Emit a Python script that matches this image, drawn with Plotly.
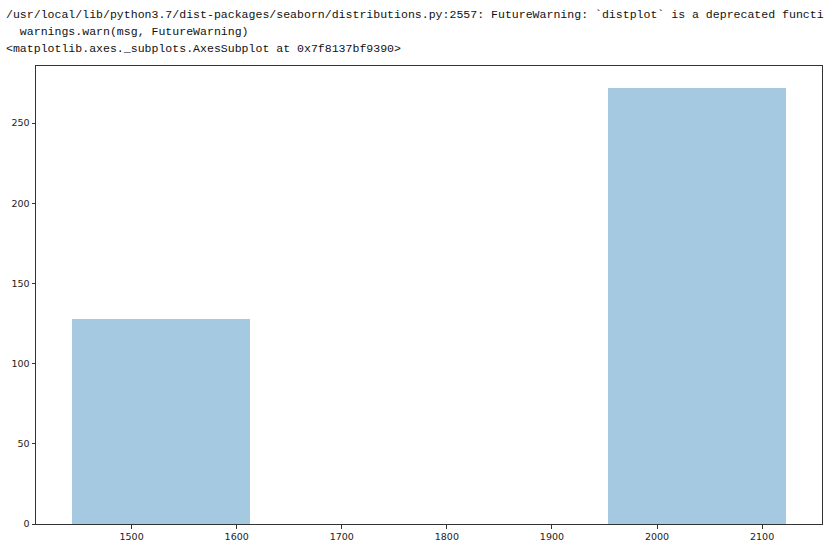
import plotly.graph_objects as go

# histogram (4 equal bins, middle two empty)
bin_edges = [1443, 1613, 1783, 1953, 2123]
counts = [128, 0, 0, 272]

x_ticks = [1500, 1600, 1700, 1800, 1900, 2000, 2100]
y_ticks = [0, 50, 100, 150, 200, 250]

# console output as far as it is visible in the cell
console_lines = [
    "/usr/local/lib/python3.7/dist-packages/seaborn/distributions.py:2557: FutureWarning: `distplot` is a deprecated functi",
    "  warnings.warn(msg, FutureWarning)",
    "<matplotlib.axes._subplots.AxesSubplot at 0x7f8137bf9390>",
]

centers = [(a + b) / 2 for a, b in zip(bin_edges[:-1], bin_edges[1:])]
widths = [b - a for a, b in zip(bin_edges[:-1], bin_edges[1:])]

# matplotlib-style 5% margins
span = bin_edges[-1] - bin_edges[0]
x_range = [bin_edges[0] - 0.05 * span, bin_edges[-1] + 0.05 * span]
y_range = [0, max(counts) * 1.05]

W, H = 830, 551
L, R, T, B = 36, 8, 66, 27
plot_w = W - L - R
plot_h = H - T - B

fig = go.Figure()
fig.add_trace(
    go.Bar(
        x=centers,
        y=counts,
        width=widths,
        marker=dict(color="rgba(31,119,180,0.4)", line=dict(width=0)),
        showlegend=False,
        hoverinfo="skip",
    )
)

# notebook console output above the axes
line_y = [15, 32, 48]
for line, yc in zip(console_lines, line_y):
    fig.add_annotation(
        text=line.replace(" ", "&nbsp;"),
        xref="paper", yref="paper",
        x=(4 - L) / plot_w, y=1.0 + (T - yc) / plot_h,
        xanchor="left", yanchor="middle",
        showarrow=False,
        font=dict(family="Liberation Mono", size=11.55, color="#111"),
    )

axis_style = dict(
    showgrid=False,
    zeroline=False,
    showline=True,
    linecolor="#333",
    linewidth=1,
    mirror=True,
    ticks="outside",
    ticklen=3.5,
    tickwidth=0.8,
    tickcolor="#333",
    tickfont=dict(family="DejaVu Sans", size=9.5, color="#222"),
)

fig.update_xaxes(range=x_range, tickvals=x_ticks, **axis_style)
fig.update_yaxes(range=y_range, tickvals=y_ticks, **axis_style)

fig.update_layout(
    width=W,
    height=H,
    margin=dict(l=L, r=R, t=T, b=B),
    paper_bgcolor="white",
    plot_bgcolor="white",
    bargap=0,
)

# drop the default 8px page margin so the figure sits at the window corner
fig.write_html(
    "out.html",
    config={"displayModeBar": False},
    post_script="document.body.style.margin='0';",
)
